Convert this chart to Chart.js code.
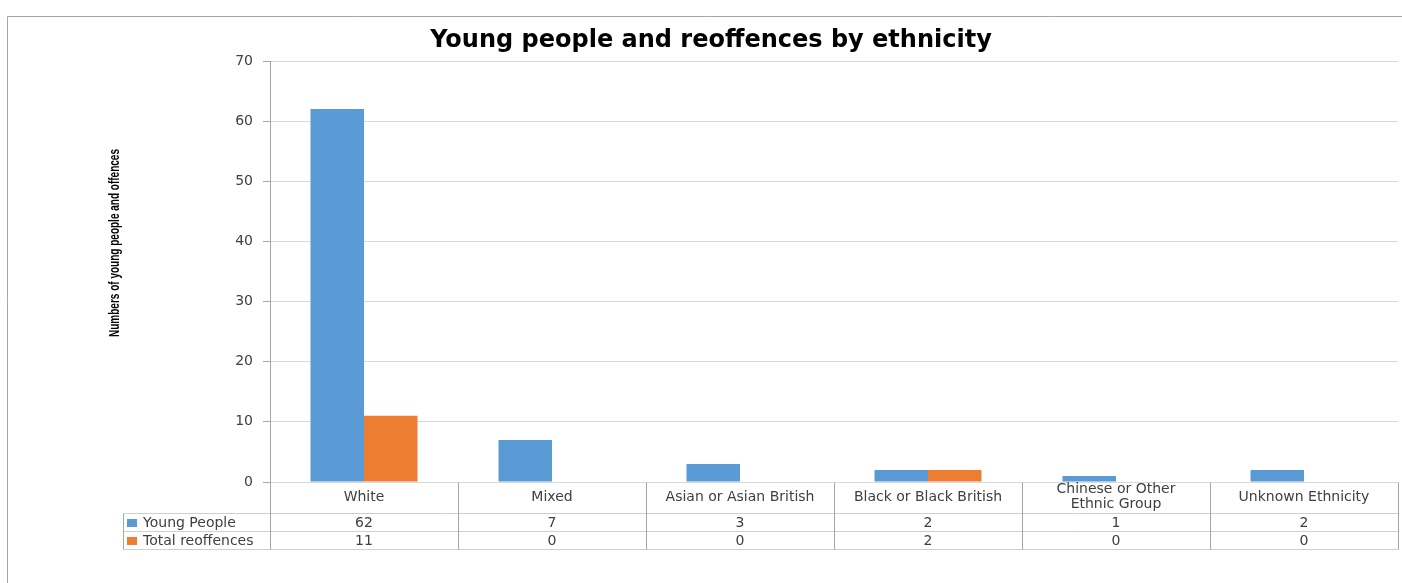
<!DOCTYPE html>
<html>
<head>
<meta charset="utf-8">
<script src="https://cdn.jsdelivr.net/npm/chart.js@4/dist/chart.umd.min.js"></script>
<style>
html,body{margin:0;padding:0;background:#fff;}
#wrap{width:1402px;height:583px;position:relative;}
</style>
</head>
<body>
<div id="wrap"><canvas id="c" width="1402" height="583"></canvas></div>
<script>
const categories = ['White', 'Mixed', 'Asian or Asian British', 'Black or Black British', ['Chinese or Other', 'Ethnic Group'], 'Unknown Ethnicity'];
const seriesNames = ['Young People', 'Total reoffences'];
const youngPeople = [62, 7, 3, 2, 1, 2];
const totalReoffences = [11, 0, 0, 2, 0, 0];
const yTicks = [0, 10, 20, 30, 40, 50, 60, 70];
const chartTitle = 'Young people and reoffences by ethnicity';
const yTitle = 'Numbers of young people and offences';

const BLUE = '#5B9BD5', ORANGE = '#ED7D31';
const TEXT = '#404040';
const FONT = 'DejaVu Sans';

const framePlugin = {
  id: 'frame',
  beforeDraw(chart) {
    const ctx = chart.ctx;
    ctx.save();
    ctx.strokeStyle = '#a6a6a6';
    ctx.lineWidth = 1;
    ctx.beginPath();
    ctx.moveTo(7.5, 583);
    ctx.lineTo(7.5, 16.5);
    ctx.lineTo(1402, 16.5);
    ctx.stroke();
    ctx.restore();
  }
};

const yTitlePlugin = {
  id: 'yTitleDraw',
  afterDraw(chart) {
    const ctx = chart.ctx;
    ctx.save();
    ctx.translate(115, 243);
    ctx.rotate(-Math.PI / 2);
    ctx.font = 'bold 15px "Liberation Sans"';
    const w = ctx.measureText(yTitle).width;
    ctx.scale(188 / w, 1);
    ctx.fillStyle = '#000';
    ctx.textAlign = 'center';
    ctx.textBaseline = 'middle';
    ctx.fillText(yTitle, 0, 0);
    ctx.restore();
  }
};

const tablePlugin = {
  id: 'dataTable',
  afterDraw(chart) {
    const ctx = chart.ctx;
    const xs = chart.scales.x;
    const area = chart.chartArea;
    const n = categories.length;
    const catW = (area.right - area.left) / n;
    const top = Math.round(area.bottom) + 0.5;
    const r1 = top + 31, r2 = r1 + 18, r3 = r2 + 18;
    const tableLeft = 123.5;
    ctx.save();
    ctx.lineWidth = 1;
    ctx.strokeStyle = '#cfcfcf';
    ctx.beginPath();
    [r1, r2, r3].forEach(y => { ctx.moveTo(tableLeft, y); ctx.lineTo(Math.round(area.right) + 0.5, y); });
    ctx.stroke();
    ctx.strokeStyle = '#a6a6a6';
    ctx.beginPath();
    for (let i = 0; i <= n; i++) {
      const x = Math.round(area.left + i * catW) + 0.5;
      ctx.moveTo(x, top);
      ctx.lineTo(x, r3);
    }
    ctx.moveTo(tableLeft, r1);
    ctx.lineTo(tableLeft, r3);
    ctx.stroke();
    ctx.font = '14px "' + FONT + '"';
    ctx.textBaseline = 'middle';
    chart.data.datasets.forEach((ds, di) => {
      const yc = di === 0 ? (r1 + r2) / 2 : (r2 + r3) / 2;
      ctx.fillStyle = TEXT;
      ctx.textAlign = 'center';
      ds.data.forEach((v, i) => {
        ctx.fillText(String(v), xs.getPixelForValue(i), yc + 1);
      });
      ctx.fillStyle = ds.backgroundColor;
      ctx.fillRect(127, Math.round(yc) - 4, 10, 8);
      ctx.fillStyle = TEXT;
      ctx.textAlign = 'left';
      ctx.fillText(ds.label, 143, yc + 1);
    });
    ctx.restore();
  }
};

new Chart(document.getElementById('c'), {
  type: 'bar',
  data: {
    labels: categories,
    datasets: [
      { label: seriesNames[0], data: youngPeople, backgroundColor: BLUE },
      { label: seriesNames[1], data: totalReoffences, backgroundColor: ORANGE }
    ]
  },
  options: {
    responsive: false,
    animation: false,
    devicePixelRatio: 1,
    layout: { padding: { left: 24, right: 4, top: 0, bottom: 0 } },
    datasets: { bar: { categoryPercentage: 107 / 188, barPercentage: 1.0 } },
    plugins: {
      legend: { display: false },
      tooltip: { enabled: false },
      title: {
        display: true,
        text: chartTitle,
        color: '#000',
        font: { family: FONT, size: 24, weight: 'bold', lineHeight: 1.2 },
        padding: { top: 26, bottom: 6.2 }
      }
    },
    scales: {
      x: {
        grid: { display: false, drawTicks: false },
        border: { display: false },
        ticks: {
          color: TEXT,
          font: { family: FONT, size: 14, lineHeight: 15 / 14 },
          maxRotation: 0,
          autoSkip: false,
          crossAlign: 'center',
          padding: 7.5
        },
        afterFit(scale) { scale.height = 101; }
      },
      y: {
        min: 0,
        max: 70,
        afterBuildTicks(scale) { scale.ticks = yTicks.map(v => ({ value: v })); },
        grid: { color: '#d9d9d9', tickLength: 7, tickColor: '#a6a6a6' },
        border: { display: true, color: '#a6a6a6' },
        ticks: {
          color: TEXT,
          font: { family: FONT, size: 14 },
          padding: 10
        },
        afterFit(scale) { scale.width = 246; }
      }
    }
  },
  plugins: [framePlugin, yTitlePlugin, tablePlugin]
});
</script>
</body>
</html>
